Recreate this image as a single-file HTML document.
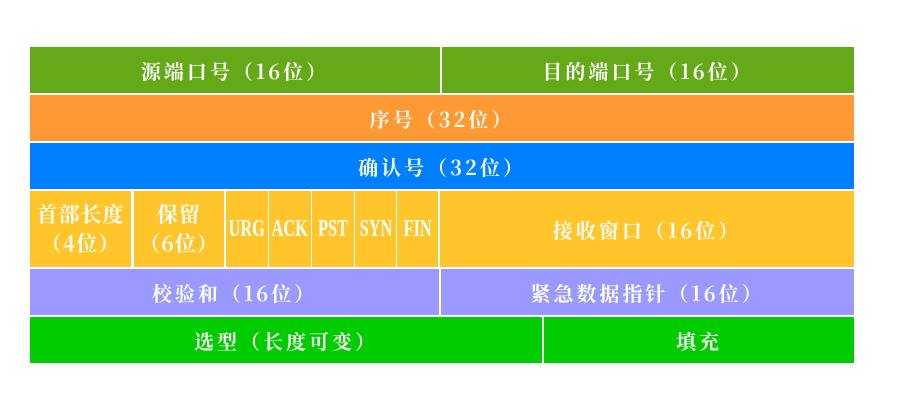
<!DOCTYPE html>
<html><head><meta charset="utf-8"><style>
html,body{margin:0;padding:0;background:#fff;width:899px;height:401px;overflow:hidden}
.c{position:absolute;display:flex;align-items:center;justify-content:center;text-align:center;color:#fff;font-family:"Noto Serif CJK SC","Liberation Serif",serif;font-weight:bold;font-size:20px;letter-spacing:3px;line-height:27px;box-sizing:border-box}
.s{font-family:"Liberation Serif",serif;font-size:24px;letter-spacing:0;font-weight:bold}
.s span{display:inline-block;transform:scaleX(0.68);white-space:nowrap}
</style></head><body>
<div class="c" style="left:30px;top:47px;width:410px;height:46px;background:#63a918">源端口号（16位）</div>
<div class="c" style="left:442px;top:47px;width:412px;height:46px;background:#63a918">目的端口号（16位）</div>
<div class="c" style="left:30px;top:95px;width:824px;height:46px;background:#ff9933">序号（32位）</div>
<div class="c" style="left:30px;top:143px;width:824px;height:46px;background:#0080ff">确认号（32位）</div>
<div class="c" style="left:30px;top:191px;width:101px;height:76px;background:#ffc52a;letter-spacing:1px;font-size:21px;line-height:29px">首部长度<br>（4位）</div>
<div class="c" style="left:134px;top:191px;width:90px;height:76px;background:#ffc52a;letter-spacing:1px;font-size:21px;line-height:29px">保留<br>（6位）</div>
<div class="c s" style="left:226px;top:191px;width:42px;height:76px;background:#ffc52a"><span>URG</span></div>
<div class="c s" style="left:269px;top:191px;width:42px;height:76px;background:#ffc52a"><span>ACK</span></div>
<div class="c s" style="left:312px;top:191px;width:42px;height:76px;background:#ffc52a"><span>PST</span></div>
<div class="c s" style="left:355px;top:191px;width:41px;height:76px;background:#ffc52a"><span>SYN</span></div>
<div class="c s" style="left:397px;top:191px;width:41px;height:76px;background:#ffc52a"><span>FIN</span></div>
<div class="c" style="left:440px;top:191px;width:414px;height:76px;background:#ffc52a">接收窗口（16位）</div>
<div class="c" style="left:30px;top:269px;width:409px;height:46px;background:#9999ff">校验和（16位）</div>
<div class="c" style="left:441px;top:269px;width:413px;height:46px;background:#9999ff">紧急数据指针（16位）</div>
<div class="c" style="left:30px;top:317px;width:512px;height:46px;background:#00cc00">选型（长度可变）</div>
<div class="c" style="left:544px;top:317px;width:310px;height:46px;background:#00cc00">填充</div>
</body></html>
